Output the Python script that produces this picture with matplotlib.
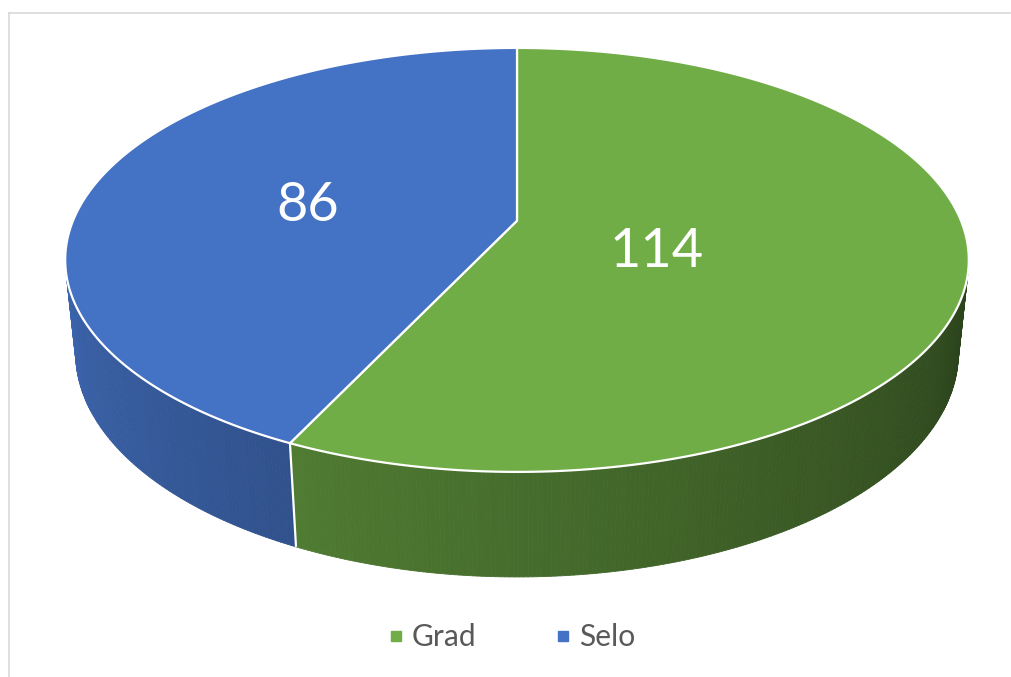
import numpy as np
import matplotlib
matplotlib.use('Agg')
import matplotlib.pyplot as plt
from matplotlib.collections import PolyCollection
from matplotlib.patches import Polygon
from matplotlib.lines import Line2D
from matplotlib.colors import to_rgb

# ---- data ----
categories = ['Grad', 'Selo']
values = [114, 86]
colors = ['#70AD47', '#4472C4']
# in-plane anchor (angle, radius) of each data label's baseline centre
label_anchor_deg = [125.8, 270.0]
label_anchor_r = [0.373, 0.472]

W, HPX = 1011, 677
fig = plt.figure(figsize=(W / 100, HPX / 100), dpi=100)
ax = fig.add_axes([0, 0, 1, 1])
ax.set_xlim(0, W)
ax.set_ylim(HPX, 0)
ax.axis('off')

plt.rcParams['font.family'] = ['Lato', 'DejaVu Sans']

# ---- perspective camera ----
S = 444.0
CX, CY = 517.0, 220.7
SIN_A = 0.4611
COS_A = np.sqrt(1 - SIN_A ** 2)
K = 0.185
D = COS_A / K
THICK = 0.238


def proj(r, theta_deg, y):
    t = np.radians(theta_deg)
    X = r * np.sin(t)
    Z = r * np.cos(t)
    depth = 1 + (-y * SIN_A + Z * COS_A) / D
    up = y * COS_A + Z * SIN_A
    return CX + S * X / depth, CY - S * up / depth


th_lo = np.degrees(np.arccos(-1 / (D * COS_A)))
th_hi = 360 - th_lo

total = float(sum(values))
bounds = np.concatenate([[0], np.cumsum(values) / total * 360])


def shade(theta):
    return np.clip(0.38 + 0.00329 * (theta - 104), 0.3, 1.0)


# ---- side faces ----
for i, (a0, a1) in enumerate(zip(bounds[:-1], bounds[1:])):
    lo, hi = max(a0, th_lo), min(a1, th_hi)
    if hi <= lo:
        continue
    ts = np.linspace(lo, hi, int((hi - lo) * 2) + 2)
    base = np.array(to_rgb(colors[i]))
    polys, cols = [], []
    for ta, tb in zip(ts[:-1], ts[1:]):
        xa, ya = proj(1, ta, 0)
        xb, yb = proj(1, tb, 0)
        xc, yc = proj(1, tb, -THICK)
        xd, yd = proj(1, ta, -THICK)
        polys.append([(xa, ya), (xb, yb), (xc, yc), (xd, yd)])
        cols.append(tuple(base * shade(0.5 * (ta + tb))))
    pc = PolyCollection(polys, facecolors=cols, edgecolors=cols, linewidths=0.6, zorder=1)
    ax.add_collection(pc)

# white edges between side segments
for b in bounds[1:-1]:
    if th_lo < b < th_hi:
        x0, y0 = proj(1, b, 0)
        x1, y1 = proj(1, b, -THICK)
        ax.plot([x0, x1], [y0, y1], color='white', lw=1.6, zorder=2, solid_capstyle='butt')

# ---- top faces ----
for i, (a0, a1) in enumerate(zip(bounds[:-1], bounds[1:])):
    ts = np.linspace(a0, a1, 400)
    xs, ys = proj(1, ts, 0)
    cx0, cy0 = proj(0, 0, 0)
    pts = [(cx0, cy0)] + list(zip(xs, ys))
    ax.add_patch(Polygon(pts, closed=True, facecolor=colors[i], edgecolor='white',
                         lw=1.6, joinstyle='round', zorder=3))

# ---- data labels ----
for i, v in enumerate(values):
    lx, ly = proj(label_anchor_r[i], label_anchor_deg[i], 0)
    ax.text(lx, ly, str(v), color='white', fontsize=39, ha='center', va='baseline', zorder=5)

# ---- chart border (left & top visible) ----
ax.plot([8.5, 8.5], [12.5, HPX + 5], color='#d9d9d9', lw=1.2, zorder=0)
ax.plot([8.5, W - 1], [12.5, 12.5], color='#d9d9d9', lw=1.2, zorder=0)

# ---- legend ----
handles = [Line2D([], [], marker='s', linestyle='none', markersize=6.5,
                  markerfacecolor=c, markeredgecolor=c) for c in colors]
leg = ax.legend(handles, categories, loc='center', bbox_to_anchor=(511, 637),
                bbox_transform=ax.transData, ncol=2, frameon=False,
                fontsize=21.6, handlelength=0.6, handletextpad=0.25,
                columnspacing=2.57, borderpad=0)
for t in leg.get_texts():
    t.set_color('#595959')

fig.savefig('out.png', dpi=100)
